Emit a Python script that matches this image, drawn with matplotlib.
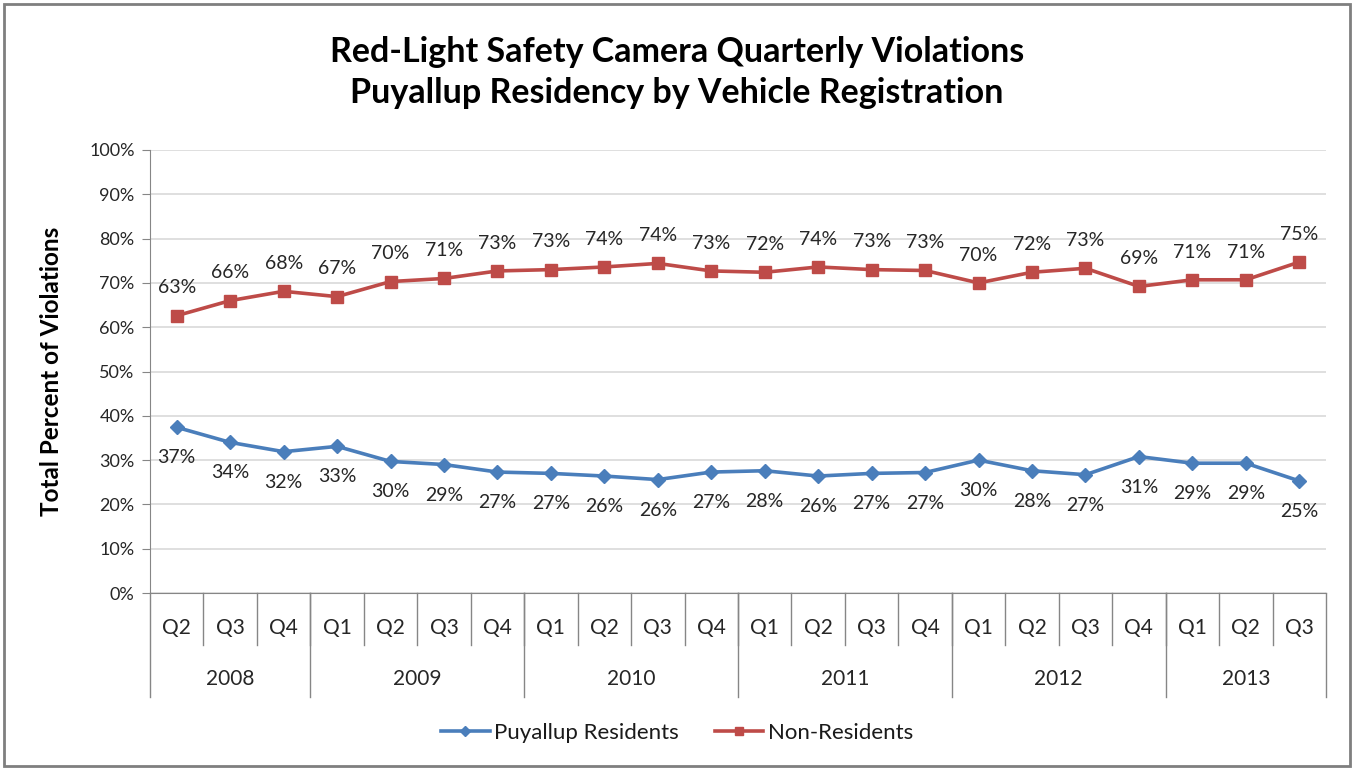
import matplotlib.pyplot as plt
from matplotlib.patches import Rectangle
from matplotlib.ticker import PercentFormatter

plt.rcParams['font.family'] = ['Lato', 'DejaVu Sans']

# Quarterly share of red-light violations (%)
quarters = ['Q2', 'Q3', 'Q4',
            'Q1', 'Q2', 'Q3', 'Q4',
            'Q1', 'Q2', 'Q3', 'Q4',
            'Q1', 'Q2', 'Q3', 'Q4',
            'Q1', 'Q2', 'Q3', 'Q4',
            'Q1', 'Q2', 'Q3']
years = ['2008', '2009', '2010', '2011', '2012', '2013']
quarters_per_year = [3, 4, 4, 4, 4, 3]

residents = [37.4, 34.0, 31.9, 33.1, 29.7, 29.0, 27.3, 27.0, 26.4, 25.6, 27.3,
             27.6, 26.4, 27.0, 27.2, 30.0, 27.6, 26.7, 30.8, 29.3, 29.3, 25.3]
non_residents = [62.6, 66.0, 68.1, 66.9, 70.3, 71.0, 72.7, 73.0, 73.6, 74.4, 72.7,
                 72.4, 73.6, 73.0, 72.8, 70.0, 72.4, 73.3, 69.2, 70.7, 70.7, 74.7]

blue = '#4A7EBB'
red = '#BE4B48'
text_col = '#262626'

fig = plt.figure(figsize=(13.54, 7.70), dpi=100)
ax = fig.add_axes([150 / 1354, 177 / 770, 1176 / 1354, 443 / 770])

x = list(range(len(quarters)))
ax.plot(x, residents, color=blue, lw=2.6, marker='D', ms=7, label='Puyallup Residents')
ax.plot(x, non_residents, color=red, lw=2.6, marker='s', ms=8, label='Non-Residents')

# data labels
for i in x:
    ax.annotate(f'{round(non_residents[i])}%', (i, non_residents[i]), xytext=(0, 20),
                textcoords='offset points', ha='center', va='center', fontsize=14, color=text_col)
    ax.annotate(f'{round(residents[i])}%', (i, residents[i]), xytext=(0, -22),
                textcoords='offset points', ha='center', va='center', fontsize=14, color=text_col)

ax.set_xlim(-0.5, len(quarters) - 0.5)
ax.set_ylim(0, 100)
ax.set_yticks(range(0, 101, 10))
ax.yaxis.set_major_formatter(PercentFormatter(decimals=0))
ax.tick_params(axis='y', labelsize=13, colors='#868686', labelcolor=text_col, length=6, pad=5)
ax.set_xticks([])
ax.grid(axis='y', color='#D9D9D9', lw=1.2)
ax.set_axisbelow(True)
for side in ['top', 'right']:
    ax.spines[side].set_visible(False)
ax.spines['left'].set_color('#868686')
ax.spines['bottom'].set_color('#868686')
ax.set_ylabel('Total Percent of Violations', fontsize=17.5, fontweight='bold', color='black')
ax.yaxis.set_label_coords(-(150 - 63) / 1176, 0.5)

# two-level category axis
trans = ax.get_xaxis_transform()
for i, q in enumerate(quarters):
    ax.text(i, -0.079, q, transform=trans, ha='center', va='center', fontsize=15, color=text_col)
for b in range(1, len(quarters)):
    ax.plot([b - 0.5, b - 0.5], [0, -0.117], transform=trans, color='#868686', lw=1, clip_on=False)
start = 0
edges = [-0.5]
for yr, n in zip(years, quarters_per_year):
    ax.text(start + (n - 1) / 2, -0.194, yr, transform=trans, ha='center', va='center',
            fontsize=15, color=text_col)
    start += n
    edges.append(start - 0.5)
for e in edges:
    ax.plot([e, e], [0, -0.235], transform=trans, color='#868686', lw=1, clip_on=False)

fig.text(0.5, 0.906, 'Red-Light Safety Camera Quarterly Violations\nPuyallup Residency by Vehicle Registration',
         ha='center', va='center', fontsize=24.5, fontweight='bold', linespacing=1.35)

fig.legend(loc='center', bbox_to_anchor=(0.5, 0.048), ncol=2, frameon=False, fontsize=16,
           handlelength=2.2, handletextpad=0.2, columnspacing=1.6, markerscale=0.8,
           labelcolor='#1a1a1a')

fig.add_artist(Rectangle((4 / 1354, 4 / 770), 1346 / 1354, 762 / 770, transform=fig.transFigure,
                         fill=False, edgecolor='#7F7F7F', lw=2))

fig.savefig('out.png', dpi=100)
